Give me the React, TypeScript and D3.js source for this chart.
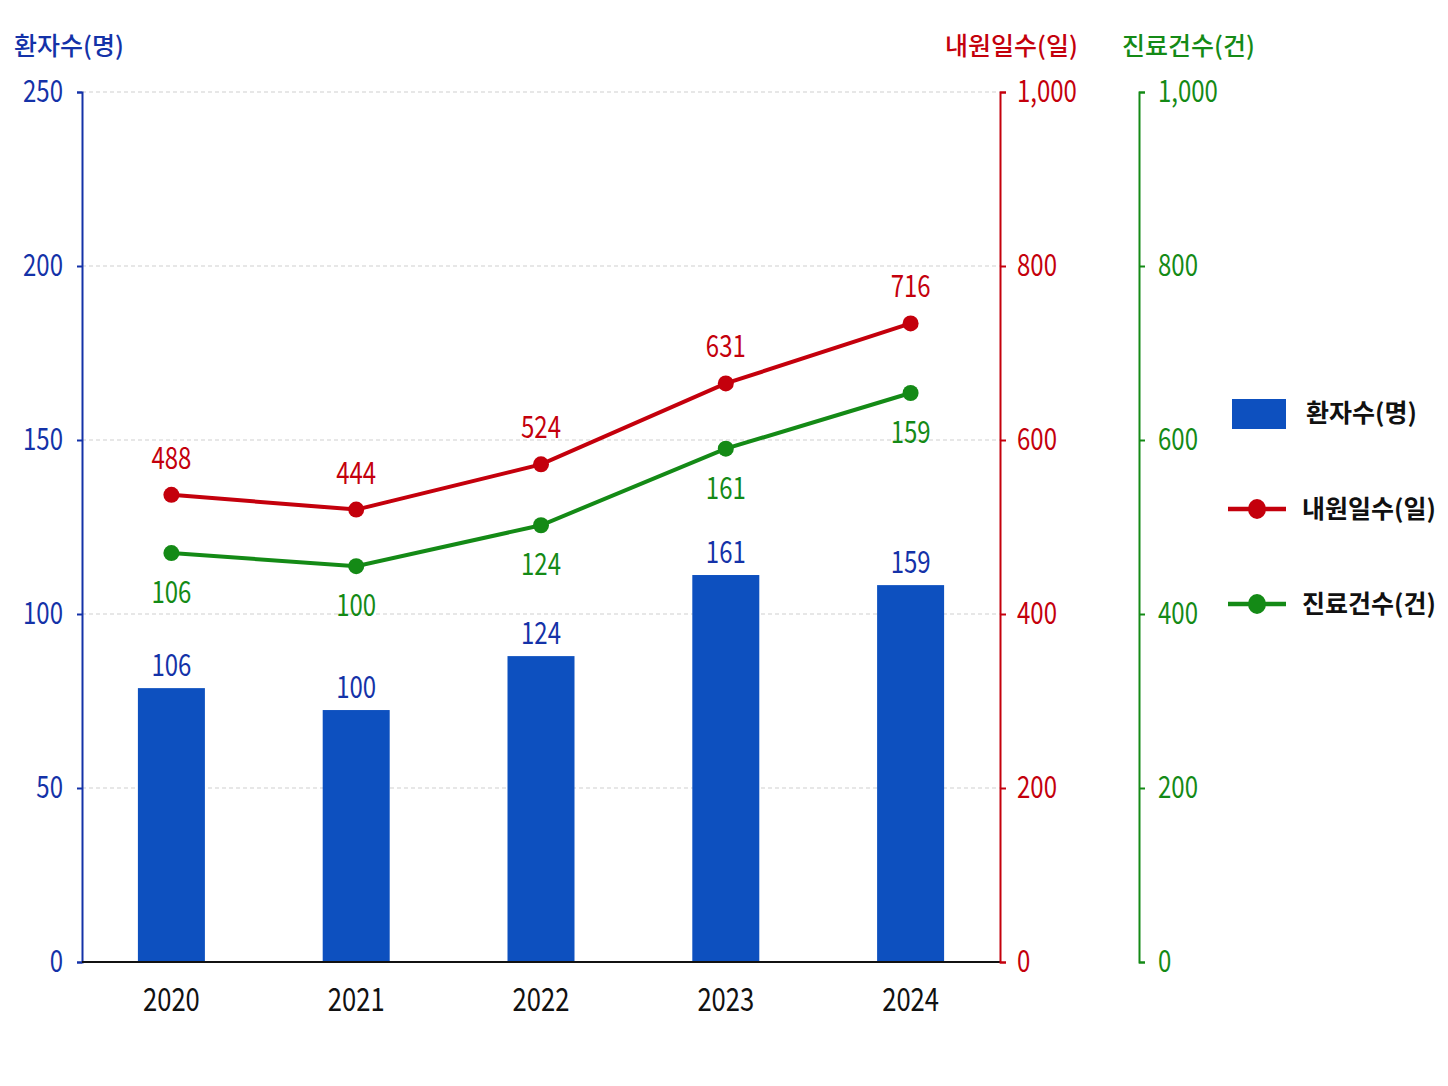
import { useRef, useEffect } from 'react';
import * as d3 from 'd3';

// values (bar heights / point positions) and the printed labels
const years = ['2020', '2021', '2022', '2023', '2024'];
const patients = [78.7, 72.4, 87.9, 111.2, 108.3];
const patientLabels = ['106', '100', '124', '161', '159'];
const visitDays = [537, 520, 572, 665, 734];
const visitLabels = ['488', '444', '524', '631', '716'];
const treatments = [470, 455, 502, 590, 654];
const treatmentLabels = ['106', '100', '124', '161', '159'];

const leftTicks = [0, 50, 100, 150, 200, 250];
const rightTicks = [0, 200, 400, 600, 800, 1000];

const BLUE = '#0d50bf';
const BLUE_TEXT = '#1432a8';
const RED = '#c4000c';
const GREEN = '#148a16';
const NUM_FONT = "'Noto Sans CJK KR', 'Noto Sans', sans-serif";
const KR_FONT = "'Noto Sans CJK KR', sans-serif";
const SQUEEZE = 0.8; // digits in the reference are narrow

const App = () => {
  const svgRef = useRef<SVGSVGElement | null>(null);

  useEffect(() => {
    document.body.style.margin = '0';
    const svg = d3.select(svgRef.current).attr('width', 1448).attr('height', 1086);
    svg.selectAll('*').remove();

    const left = 82;
    const right = 1000;
    const top = 92;
    const bottom = 962;
    const greenX = 1139;

    const x = d3.scalePoint<string>().domain(years).range([79, 1003]).padding(0.5);
    const yL = d3.scaleLinear().domain([0, 250]).range([bottom, top]);
    const yR = d3.scaleLinear().domain([0, 1000]).range([bottom, top]);

    svg.append('rect').attr('width', 1448).attr('height', 1086).attr('fill', '#fff');

    // grid
    svg
      .append('g')
      .selectAll('line')
      .data(leftTicks.filter(d => d > 0))
      .join('line')
      .attr('x1', left)
      .attr('x2', right)
      .attr('y1', d => yL(d))
      .attr('y2', d => yL(d))
      .attr('stroke', '#cfcfcf')
      .attr('stroke-width', 1.2)
      .attr('stroke-dasharray', '4 3');

    // narrow number label helper
    const numLabels = (
      vals: number[],
      labels: string[],
      yPos: (d: number) => number,
      color: string,
      size: number,
    ) => {
      svg
        .append('g')
        .selectAll('text')
        .data(vals)
        .join('text')
        .attr('transform', (d, i) => `translate(${x(years[i])},${yPos(d)}) scale(${SQUEEZE},1)`)
        .attr('text-anchor', 'middle')
        .attr('font-family', NUM_FONT)
        .attr('font-size', size)
        .attr('fill', color)
        .text((_d, i) => labels[i]);
    };

    // bars
    const barW = 67;
    svg
      .append('g')
      .selectAll('rect')
      .data(patients)
      .join('rect')
      .attr('x', (_d, i) => (x(years[i]) as number) - barW / 2)
      .attr('y', d => yL(d))
      .attr('width', barW)
      .attr('height', d => bottom - yL(d))
      .attr('fill', BLUE);

    numLabels(patients, patientLabels, d => yL(d) - 12, BLUE_TEXT, 30);

    // axes
    const styleAxis = (
      g: d3.Selection<SVGGElement, unknown, null, undefined>,
      color: string,
      offset: number,
    ) => {
      g.select('.domain').attr('stroke', color).attr('stroke-width', 2);
      g.selectAll('.tick line').attr('stroke', color).attr('stroke-width', 2);
      g.selectAll('.tick text')
        .attr('x', null)
        .attr('transform', `translate(${offset},0) scale(${SQUEEZE},1)`)
        .attr('fill', color)
        .attr('font-family', NUM_FONT)
        .attr('font-size', 30);
    };

    const gL = svg
      .append('g')
      .attr('transform', `translate(${left},0)`)
      .call(d3.axisLeft(yL).tickValues(leftTicks).tickSize(5).tickSizeOuter(5));
    styleAxis(gL, BLUE_TEXT, -19);

    svg
      .append('line')
      .attr('x1', left)
      .attr('x2', right)
      .attr('y1', bottom)
      .attr('y2', bottom)
      .attr('stroke', '#111')
      .attr('stroke-width', 2);

    const gR = svg
      .append('g')
      .attr('transform', `translate(${right},0)`)
      .call(
        d3.axisRight(yR).tickValues(rightTicks).tickFormat(d3.format(',')).tickSize(6).tickSizeOuter(6),
      );
    styleAxis(gR, RED, 17);

    const gG = svg
      .append('g')
      .attr('transform', `translate(${greenX},0)`)
      .call(
        d3.axisRight(yR).tickValues(rightTicks).tickFormat(d3.format(',')).tickSize(6).tickSizeOuter(6),
      );
    styleAxis(gG, GREEN, 19);

    // x labels
    svg
      .append('g')
      .selectAll('text')
      .data(years)
      .join('text')
      .attr('transform', d => `translate(${x(d)},1011) scale(${SQUEEZE},1)`)
      .attr('text-anchor', 'middle')
      .attr('font-family', NUM_FONT)
      .attr('font-size', 32)
      .attr('fill', '#111')
      .text(d => d);

    // lines
    const drawLine = (vals: number[], labels: string[], color: string, dy: number) => {
      const line = d3
        .line<number>()
        .x((_d, i) => x(years[i]) as number)
        .y(d => yR(d));
      svg
        .append('path')
        .datum(vals)
        .attr('d', line)
        .attr('fill', 'none')
        .attr('stroke', color)
        .attr('stroke-width', 4);
      svg
        .append('g')
        .selectAll('circle')
        .data(vals)
        .join('circle')
        .attr('cx', (_d, i) => x(years[i]) as number)
        .attr('cy', d => yR(d))
        .attr('r', 8)
        .attr('fill', color);
      numLabels(vals, labels, d => yR(d) + dy, color, 30);
    };
    drawLine(visitDays, visitLabels, RED, -26);
    drawLine(treatments, treatmentLabels, GREEN, 50);

    // axis titles
    const titles = [
      { t: '환자수(명)', x: 14, c: BLUE_TEXT },
      { t: '내원일수(일)', x: 945, c: RED },
      { t: '진료건수(건)', x: 1122, c: GREEN },
    ];
    svg
      .append('g')
      .selectAll('text')
      .data(titles)
      .join('text')
      .attr('x', d => d.x)
      .attr('y', 55)
      .attr('font-family', KR_FONT)
      .attr('font-size', 25)
      .attr('font-weight', 500)
      .attr('fill', d => d.c)
      .text(d => d.t);

    // legend
    const lg = svg.append('g').attr('font-family', KR_FONT).attr('font-size', 25).attr('font-weight', 600);
    lg.append('rect').attr('x', 1232).attr('y', 399).attr('width', 54).attr('height', 30).attr('fill', BLUE);
    lg.append('text').attr('x', 1306).attr('y', 422).attr('fill', '#111').text('환자수(명)');
    const items = [
      { t: '내원일수(일)', c: RED, y: 509 },
      { t: '진료건수(건)', c: GREEN, y: 604 },
    ];
    items.forEach(it => {
      lg.append('line')
        .attr('x1', 1228)
        .attr('x2', 1286)
        .attr('y1', it.y)
        .attr('y2', it.y)
        .attr('stroke', it.c)
        .attr('stroke-width', 4.5);
      lg.append('ellipse').attr('cx', 1257).attr('cy', it.y).attr('rx', 9).attr('ry', 10).attr('fill', it.c);
      lg.append('text').attr('x', 1302).attr('y', it.y + 9).attr('fill', '#111').text(it.t);
    });
  }, []);

  return <svg ref={svgRef}></svg>;
};

export default App;
